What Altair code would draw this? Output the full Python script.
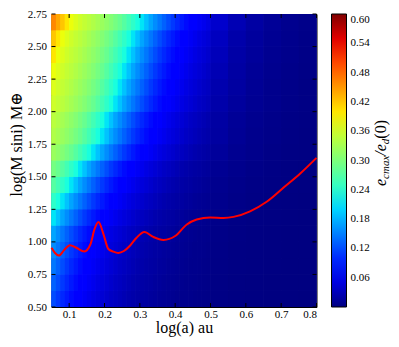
import altair as alt
import pandas as pd

# ---------------- data ----------------
# heat-map cell edges (x = log(a) au, y = log(M sini) M_earth)
x_edges = [0.05, 0.0625, 0.075, 0.0875, 0.1, 0.1125, 0.125, 0.1375, 0.15, 0.1625,
           0.175, 0.1875, 0.2, 0.2125, 0.225, 0.2375, 0.25, 0.2625, 0.275, 0.2875,
           0.3, 0.3125, 0.325, 0.3375, 0.35, 0.3625, 0.375, 0.3875, 0.4, 0.4125,
           0.425, 0.4375, 0.45, 0.4625, 0.475, 0.4875, 0.5, 0.55, 0.6, 0.65, 0.7,
           0.75, 0.8]
y_edges = [0.5, 0.625, 0.75, 0.875, 1.0, 1.125, 1.25, 1.375, 1.5, 1.625, 1.75,
           1.875, 2.0, 2.125, 2.25, 2.375, 2.5, 2.625, 2.75]

# e_cmax / e_d(0), one row per y band (bottom to top), left to right
row_01 = [0.12, 0.108, 0.098, 0.089, 0.081, 0.074, 0.068, 0.062, 0.057, 0.052, 0.048, 0.044,
          0.04, 0.036, 0.033, 0.03, 0.027, 0.024, 0.022, 0.02, 0.018, 0.017, 0.015, 0.014,
          0.012, 0.011, 0.01, 0.009, 0.008, 0.007, 0.0065, 0.006, 0.005, 0.0046, 0.004, 0.0036,
          0.0025, 0.0016, 0.001, 0.0006, 0.0004, 0.0002]
row_02 = [0.132, 0.12, 0.108, 0.098, 0.089, 0.081, 0.074, 0.068, 0.062, 0.057, 0.052, 0.048,
          0.044, 0.04, 0.036, 0.033, 0.03, 0.027, 0.024, 0.022, 0.02, 0.018, 0.017, 0.015,
          0.014, 0.012, 0.011, 0.01, 0.009, 0.008, 0.007, 0.0065, 0.006, 0.005, 0.0046, 0.004,
          0.0028, 0.0018, 0.0012, 0.0007, 0.0005, 0.0003]
row_03 = [0.145, 0.132, 0.12, 0.108, 0.098, 0.089, 0.081, 0.074, 0.068, 0.062, 0.057, 0.052,
          0.048, 0.044, 0.04, 0.036, 0.033, 0.03, 0.027, 0.024, 0.022, 0.02, 0.018, 0.017,
          0.015, 0.014, 0.012, 0.011, 0.01, 0.009, 0.008, 0.007, 0.0065, 0.006, 0.005, 0.0046,
          0.0032, 0.002, 0.0013, 0.0008, 0.0005, 0.0003]
row_04 = [0.158, 0.145, 0.132, 0.12, 0.108, 0.098, 0.089, 0.081, 0.074, 0.068, 0.062, 0.057,
          0.052, 0.048, 0.044, 0.04, 0.036, 0.033, 0.03, 0.027, 0.024, 0.022, 0.02, 0.018,
          0.017, 0.015, 0.014, 0.012, 0.011, 0.01, 0.009, 0.008, 0.007, 0.0065, 0.006, 0.005,
          0.0036, 0.0022, 0.0014, 0.0009, 0.0006, 0.0004]
row_05 = [0.172, 0.158, 0.145, 0.132, 0.12, 0.108, 0.098, 0.089, 0.081, 0.074, 0.068, 0.062,
          0.057, 0.052, 0.048, 0.044, 0.04, 0.036, 0.033, 0.03, 0.027, 0.024, 0.022, 0.02,
          0.018, 0.017, 0.015, 0.014, 0.012, 0.011, 0.01, 0.009, 0.008, 0.007, 0.0065, 0.006,
          0.004, 0.0025, 0.0016, 0.001, 0.0006, 0.0004]
row_06 = [0.21, 0.19, 0.172, 0.158, 0.145, 0.132, 0.12, 0.108, 0.098, 0.089, 0.081, 0.074,
          0.068, 0.062, 0.057, 0.052, 0.048, 0.044, 0.04, 0.036, 0.033, 0.03, 0.027, 0.024,
          0.022, 0.02, 0.018, 0.017, 0.015, 0.014, 0.012, 0.011, 0.01, 0.009, 0.008, 0.007,
          0.005, 0.0032, 0.002, 0.0013, 0.0008, 0.0005]
row_07 = [0.243, 0.228, 0.21, 0.19, 0.172, 0.158, 0.145, 0.132, 0.12, 0.108, 0.098, 0.089,
          0.081, 0.074, 0.068, 0.062, 0.057, 0.052, 0.048, 0.044, 0.04, 0.036, 0.033, 0.03,
          0.027, 0.024, 0.022, 0.02, 0.018, 0.017, 0.015, 0.014, 0.012, 0.011, 0.01, 0.009,
          0.0065, 0.004, 0.0025, 0.0016, 0.001, 0.0006]
row_08 = [0.272, 0.258, 0.243, 0.228, 0.21, 0.19, 0.172, 0.158, 0.145, 0.132, 0.12, 0.108,
          0.098, 0.089, 0.081, 0.074, 0.068, 0.062, 0.057, 0.052, 0.048, 0.044, 0.04, 0.036,
          0.033, 0.03, 0.027, 0.024, 0.022, 0.02, 0.018, 0.017, 0.015, 0.014, 0.012, 0.011,
          0.008, 0.005, 0.0032, 0.002, 0.0013, 0.0008]
row_09 = [0.295, 0.285, 0.272, 0.258, 0.243, 0.228, 0.21, 0.19, 0.172, 0.158, 0.145, 0.132,
          0.12, 0.108, 0.098, 0.089, 0.081, 0.074, 0.068, 0.062, 0.057, 0.052, 0.048, 0.044,
          0.04, 0.036, 0.033, 0.03, 0.027, 0.024, 0.022, 0.02, 0.018, 0.017, 0.015, 0.014,
          0.01, 0.0065, 0.004, 0.0025, 0.0016, 0.001]
row_10 = [0.322, 0.314, 0.305, 0.295, 0.285, 0.272, 0.258, 0.243, 0.228, 0.21, 0.19, 0.172,
          0.158, 0.145, 0.132, 0.12, 0.108, 0.098, 0.089, 0.081, 0.074, 0.068, 0.062, 0.057,
          0.052, 0.048, 0.044, 0.04, 0.036, 0.033, 0.03, 0.027, 0.024, 0.022, 0.02, 0.018,
          0.014, 0.009, 0.006, 0.0036, 0.0022, 0.0014]
row_11 = [0.338, 0.33, 0.322, 0.314, 0.305, 0.295, 0.285, 0.272, 0.258, 0.243, 0.228, 0.21,
          0.19, 0.172, 0.158, 0.145, 0.132, 0.12, 0.108, 0.098, 0.089, 0.081, 0.074, 0.068,
          0.062, 0.057, 0.052, 0.048, 0.044, 0.04, 0.036, 0.033, 0.03, 0.027, 0.024, 0.022,
          0.017, 0.011, 0.007, 0.0046, 0.0028, 0.0018]
row_12 = [0.345, 0.338, 0.33, 0.322, 0.314, 0.305, 0.295, 0.285, 0.272, 0.258, 0.243, 0.228,
          0.21, 0.19, 0.172, 0.158, 0.145, 0.132, 0.12, 0.108, 0.098, 0.089, 0.081, 0.074,
          0.068, 0.062, 0.057, 0.052, 0.048, 0.044, 0.04, 0.036, 0.033, 0.03, 0.027, 0.024,
          0.018, 0.012, 0.008, 0.005, 0.0032, 0.002]
row_13 = [0.36, 0.352, 0.345, 0.338, 0.33, 0.322, 0.314, 0.305, 0.295, 0.285, 0.272, 0.258,
          0.243, 0.228, 0.21, 0.19, 0.172, 0.158, 0.145, 0.132, 0.12, 0.108, 0.098, 0.089,
          0.081, 0.074, 0.068, 0.062, 0.057, 0.052, 0.048, 0.044, 0.04, 0.036, 0.033, 0.03,
          0.022, 0.015, 0.01, 0.0065, 0.004, 0.0025]
row_14 = [0.37, 0.36, 0.352, 0.345, 0.338, 0.33, 0.322, 0.314, 0.305, 0.295, 0.285, 0.272,
          0.258, 0.243, 0.228, 0.21, 0.19, 0.172, 0.158, 0.145, 0.132, 0.12, 0.108, 0.098,
          0.089, 0.081, 0.074, 0.068, 0.062, 0.057, 0.052, 0.048, 0.044, 0.04, 0.036, 0.033,
          0.024, 0.017, 0.011, 0.007, 0.0046, 0.0028]
row_15 = [0.382, 0.37, 0.36, 0.352, 0.345, 0.338, 0.33, 0.322, 0.314, 0.305, 0.295, 0.285,
          0.272, 0.258, 0.243, 0.228, 0.21, 0.19, 0.172, 0.158, 0.145, 0.132, 0.12, 0.108,
          0.098, 0.089, 0.081, 0.074, 0.068, 0.062, 0.057, 0.052, 0.048, 0.044, 0.04, 0.036,
          0.027, 0.018, 0.012, 0.008, 0.005, 0.0032]
row_16 = [0.40, 0.382, 0.37, 0.36, 0.352, 0.345, 0.338, 0.33, 0.322, 0.314, 0.305, 0.295,
          0.285, 0.272, 0.258, 0.243, 0.228, 0.21, 0.19, 0.172, 0.158, 0.145, 0.132, 0.12,
          0.108, 0.098, 0.089, 0.081, 0.074, 0.068, 0.062, 0.057, 0.052, 0.048, 0.044, 0.04,
          0.03, 0.02, 0.014, 0.009, 0.006, 0.0036]
row_17 = [0.42, 0.40, 0.382, 0.37, 0.36, 0.352, 0.345, 0.338, 0.33, 0.322, 0.314, 0.305,
          0.295, 0.285, 0.272, 0.258, 0.243, 0.228, 0.21, 0.19, 0.172, 0.158, 0.145, 0.132,
          0.12, 0.108, 0.098, 0.089, 0.081, 0.074, 0.068, 0.062, 0.057, 0.052, 0.048, 0.044,
          0.033, 0.022, 0.015, 0.01, 0.0065, 0.004]
row_18 = [0.46, 0.44, 0.42, 0.40, 0.382, 0.37, 0.36, 0.352, 0.345, 0.338, 0.33, 0.322,
          0.314, 0.305, 0.295, 0.285, 0.272, 0.258, 0.243, 0.228, 0.21, 0.19, 0.172, 0.158,
          0.145, 0.132, 0.12, 0.108, 0.098, 0.089, 0.081, 0.074, 0.068, 0.062, 0.057, 0.052,
          0.04, 0.027, 0.018, 0.012, 0.008, 0.005]
rows = [row_01, row_02, row_03, row_04, row_05, row_06, row_07, row_08, row_09,
        row_10, row_11, row_12, row_13, row_14, row_15, row_16, row_17, row_18]

# red curve
curve_x = [0.05, 0.06, 0.071, 0.085, 0.102, 0.12, 0.143, 0.16, 0.172, 0.183, 0.197,
           0.211, 0.225, 0.239, 0.255, 0.272, 0.29, 0.313, 0.338, 0.367, 0.40, 0.433,
           0.461, 0.499, 0.537, 0.565, 0.612, 0.66, 0.707, 0.754, 0.8]
curve_y = [0.955, 0.915, 0.895, 0.935, 0.975, 0.955, 0.927, 0.98, 1.10, 1.152, 1.06,
           0.945, 0.925, 0.915, 0.93, 0.97, 1.03, 1.076, 1.038, 1.015, 1.045, 1.134,
           1.172, 1.187, 1.184, 1.192, 1.235, 1.31, 1.417, 1.525, 1.645]

x_ticks = [0.1, 0.2, 0.3, 0.4, 0.5, 0.6, 0.7, 0.8]
y_ticks = [0.5, 0.75, 1.0, 1.25, 1.5, 1.75, 2.0, 2.25, 2.5, 2.75]
cbar_ticks = [0.06, 0.12, 0.18, 0.24, 0.30, 0.36, 0.42, 0.48, 0.54, 0.60]
cbar_max = 0.6

# ---------------- jet colour map (style) ----------------
_jet = {
    "r": [(0, 0), (0.35, 0), (0.66, 1), (0.89, 1), (1, 0.5)],
    "g": [(0, 0), (0.125, 0), (0.375, 1), (0.64, 1), (0.91, 0), (1, 0)],
    "b": [(0, 0.5), (0.11, 1), (0.34, 1), (0.65, 0), (1, 0)],
}


def _chan(seg, t):
    for (t0, v0), (t1, v1) in zip(seg[:-1], seg[1:]):
        if t0 <= t <= t1:
            return v0 + (v1 - v0) * (t - t0) / (t1 - t0)
    return seg[-1][1]


jet_t = [0, 0.11, 0.125, 0.34, 0.35, 0.375, 0.64, 0.65, 0.66, 0.89, 0.91, 1.0]
jet_colors = ["#%02x%02x%02x" % tuple(int(round(255 * _chan(_jet[c], t))) for c in "rgb")
              for t in jet_t]
color_scale = alt.Scale(domain=[t * cbar_max for t in jet_t], range=jet_colors,
                        interpolate="rgb")

# ---------------- tables ----------------
cells = []
for i, row in enumerate(rows):
    for v, xa, xb in zip(row, x_edges[:-1], x_edges[1:]):
        cells.append({"x": xa, "x2": xb, "y": y_edges[i], "y2": y_edges[i + 1], "e": v})
cells = pd.DataFrame(cells)
curve = pd.DataFrame({"x": curve_x, "y": curve_y})
xt = pd.DataFrame({"t": x_ticks})
yt = pd.DataFrame({"t": y_ticks})

W, H = 265, 293
FONT = "Liberation Serif, DejaVu Serif, serif"
xs = alt.Scale(domain=[0.05, 0.8], nice=False, zero=False)
ys = alt.Scale(domain=[0.5, 2.75], nice=False, zero=False)

x_axis = alt.Axis(values=x_ticks, format=".1f", ticks=False, domain=False, grid=False,
                  labelPadding=1, labelFont=FONT, labelFontSize=11, labelColor="black",
                  title="log(a) au", titleFont=FONT, titleFontSize=16, titleColor="black",
                  titleFontWeight="normal", titleY=25, titleBaseline="alphabetic")
y_axis = alt.Axis(values=y_ticks, format=".2f", ticks=False, domain=False, grid=False,
                  labelPadding=5, labelFont=FONT, labelFontSize=11, labelColor="black",
                  title="log(M sini) M⊕", titleFont=FONT, titleFontSize=16,
                  titleColor="black", titleFontWeight="normal", titleAngle=270,
                  titleX=-30.5, titleY=130, titleBaseline="alphabetic",
                  titleAlign="center")

legend = alt.Legend(type="gradient", direction="vertical", title=None, orient="right",
                    offset=15, gradientLength=H, gradientThickness=15,
                    values=cbar_ticks, format=".2f", labelOffset=4, labelFont=FONT,
                    labelFontSize=11, labelColor="black", labelBaseline="middle",
                    gradientStrokeColor="black", gradientStrokeWidth=1, padding=0)


def heat_layer():
    return alt.Chart(cells).mark_rect().encode(
        x=alt.X("x:Q", scale=xs, axis=x_axis),
        x2="x2:Q",
        y=alt.Y("y:Q", scale=ys, axis=y_axis),
        y2="y2:Q",
        color=alt.Color("e:Q", scale=color_scale, legend=legend),
    )


# the same cells are painted three times (identical layers) so the hairline seams vanish
heat = heat_layer()
heat_b = heat_layer()
heat_c = heat_layer()

line = alt.Chart(curve).mark_line(color="#ff0000", strokeWidth=2,
                                  interpolate="monotone").encode(
    x=alt.X("x:Q", scale=xs, axis=x_axis), y=alt.Y("y:Q", scale=ys, axis=y_axis))

tick_len = 4
tb = alt.Chart(xt).mark_rule(color="black", strokeWidth=1).encode(
    x=alt.X("t:Q", scale=xs, axis=x_axis), y=alt.value(H), y2=alt.value(H - tick_len))
tt = alt.Chart(xt).mark_rule(color="black", strokeWidth=1).encode(
    x=alt.X("t:Q", scale=xs, axis=x_axis), y=alt.value(0), y2=alt.value(tick_len))
tl = alt.Chart(yt).mark_rule(color="black", strokeWidth=1).encode(
    y=alt.Y("t:Q", scale=ys, axis=y_axis), x=alt.value(0), x2=alt.value(tick_len))
tr = alt.Chart(yt).mark_rule(color="black", strokeWidth=1).encode(
    y=alt.Y("t:Q", scale=ys, axis=y_axis), x=alt.value(W - tick_len), x2=alt.value(W))

# colour-bar title e_cmax / e_d(0), rotated, built from pieces
bx = 334.5
pieces = [
    ("e", 172, 0, 16, "italic"),
    ("cmax", 164.9, 3, 11, "italic"),
    ("/e", 141.7, 0, 16, "italic"),
    ("d", 130.2, 3, 11, "italic"),
    ("(0)", 124.7, 0, 16, "normal"),
]
texts = []
for s, yy, dx, fs, st in pieces:
    texts.append(alt.Chart(pd.DataFrame({"s": [s]})).mark_text(
        angle=270, align="left", baseline="alphabetic", font=FONT, fontSize=fs,
        fontStyle=st, color="black").encode(
        text="s:N", x=alt.value(bx + dx), y=alt.value(yy)))

chart = alt.layer(heat, heat_b, heat_c, line, tb, tt, tl, tr, *texts).properties(
    width=W, height=H, background="white",
    padding={"left": 43.5, "top": 6, "right": 74.5, "bottom": 32},
    autosize=alt.AutoSizeParams(type="none"),
).configure_view(stroke="black", strokeWidth=1)

chart.save("out.html", embed_options={"renderer": "svg", "actions": False})
